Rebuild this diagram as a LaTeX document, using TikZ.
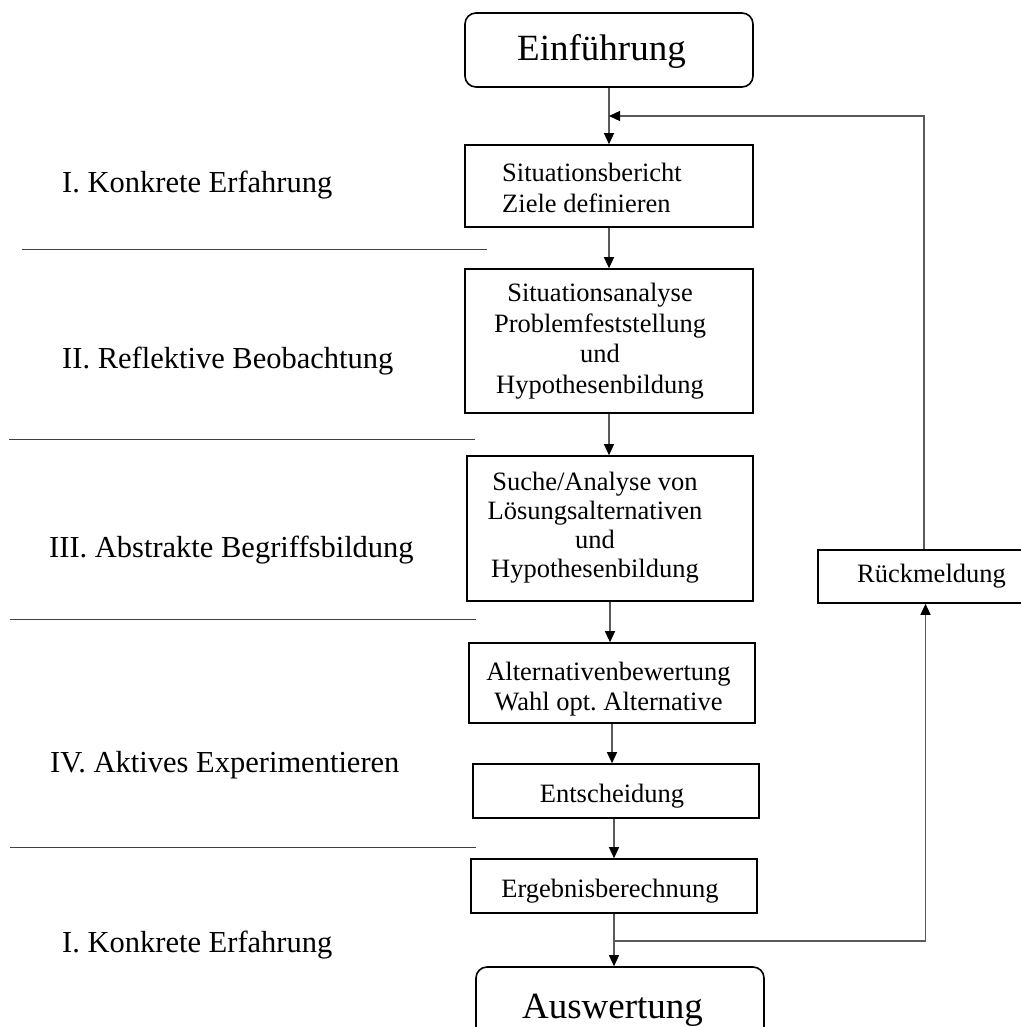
\documentclass[tikz,border=0pt]{standalone}
\usepackage{fontspec}
\setmainfont{Liberation Serif}
\usetikzlibrary{arrows.meta}
\frenchspacing

\begin{document}
\begin{tikzpicture}[x=1pt,y=-1pt,
  stepbox/.style={draw=black, line width=1.6pt, rectangle, inner sep=0pt},
  endbox/.style={stepbox, rounded corners=11pt},
  steptext/.style={font=\fontsize{26.5}{30.5}\selectfont, align=center, inner sep=0pt},
  endtext/.style={font=\fontsize{37}{42}\selectfont, inner sep=0pt},
  phase/.style={font=\fontsize{30.5}{36}\selectfont, anchor=base west, inner sep=0pt},
  flow/.style={draw=black!65, line width=1.3pt, -{Triangle[length=11pt,width=10pt,color=black]}},
  sep/.style={draw=black!75, line width=1pt}
]
\useasboundingbox (0,0) rectangle (1020,1027);

% main column of process steps
\node[endbox, minimum width=288pt, minimum height=74pt] (einf) at (609,50) {};
\node[endtext] (einf-t) at (601.5,51.5) {Einführung};

\node[stepbox, minimum width=288pt, minimum height=82pt] (sit) at (609,186) {};
\node[steptext, align=left, anchor=west] (sit-t) at (502,188) {Situationsbericht\\Ziele definieren};

\node[stepbox, minimum width=288pt, minimum height=144pt] (sana) at (609,341) {};
\node[steptext] (sana-t) at (600,341) {Situationsanalyse\\Problemfeststellung\\und\\Hypothesenbildung};

\node[stepbox, minimum width=286pt, minimum height=145pt] (such) at (610,528.5) {};
\node[steptext, font=\fontsize{26.5}{29}\selectfont] (such-t) at (595,528) {Suche/Analyse von\\Lösungsalternativen\\und\\Hypothesenbildung};

\node[stepbox, minimum width=286pt, minimum height=80pt] (alt) at (612,683) {};
\node[steptext] (alt-t) at (608.5,689) {Alternativenbewertung\\Wahl opt. Alternative};

\node[stepbox, minimum width=286pt, minimum height=54pt] (ent) at (616,791) {};
\node[steptext] (ent-t) at (612,796) {Entscheidung};

\node[stepbox, minimum width=286pt, minimum height=54pt] (erg) at (614,886) {};
\node[steptext] (erg-t) at (610,891) {Ergebnisberechnung};

\node[endbox, minimum width=288pt, minimum height=78pt] (aus) at (620,1006) {};
\node[endtext] (aus-t) at (612.5,1010) {Auswertung};

% feedback box on the right
\node[stepbox, minimum width=227pt, minimum height=53pt] (rueck) at (931.5,576.5) {};
\node[steptext] (rueck-t) at (931.5,576) {Rückmeldung};

% phase labels on the left
\node[phase] (ph1) at (62,193) {I. Konkrete Erfahrung};
\node[phase] (ph2) at (62,368) {II. Reflektive Beobachtung};
\node[phase] (ph3) at (49,557) {III. Abstrakte Begriffsbildung};
\node[phase] (ph4) at (50,772) {IV. Aktives Experimentieren};
\node[phase] (ph5) at (62,952) {I. Konkrete Erfahrung};

% separators between the phases
\draw[sep] (22,249) -- (487,249);
\draw[sep] (9,439) -- (475,439);
\draw[sep] (10,619) -- (476,619);
\draw[sep] (10,847) -- (476,847);

% flow through the steps
\draw[flow] (einf) -- (sit);
\draw[flow] (sit) -- (sana);
\draw[flow] (sana.south) -- (sana.south |- such.north);
\draw[flow] (such.south) -- (such.south |- alt.north);
\draw[flow] (alt.south) -- (alt.south |- ent.north);
\draw[flow] (erg.north |- ent.south) -- (erg.north);
\draw[flow] (erg.south) -- (erg.south |- aus.north);

% feedback loop
\coordinate (split) at (erg.south |- 0,941);
\coordinate (loop) at (einf.south |- 0,116);
\draw[flow] (split) -| ([xshift=-6pt]rueck.south);
\draw[flow] ([xshift=-7.5pt]rueck.north) |- (loop);
\end{tikzpicture}
\end{document}
